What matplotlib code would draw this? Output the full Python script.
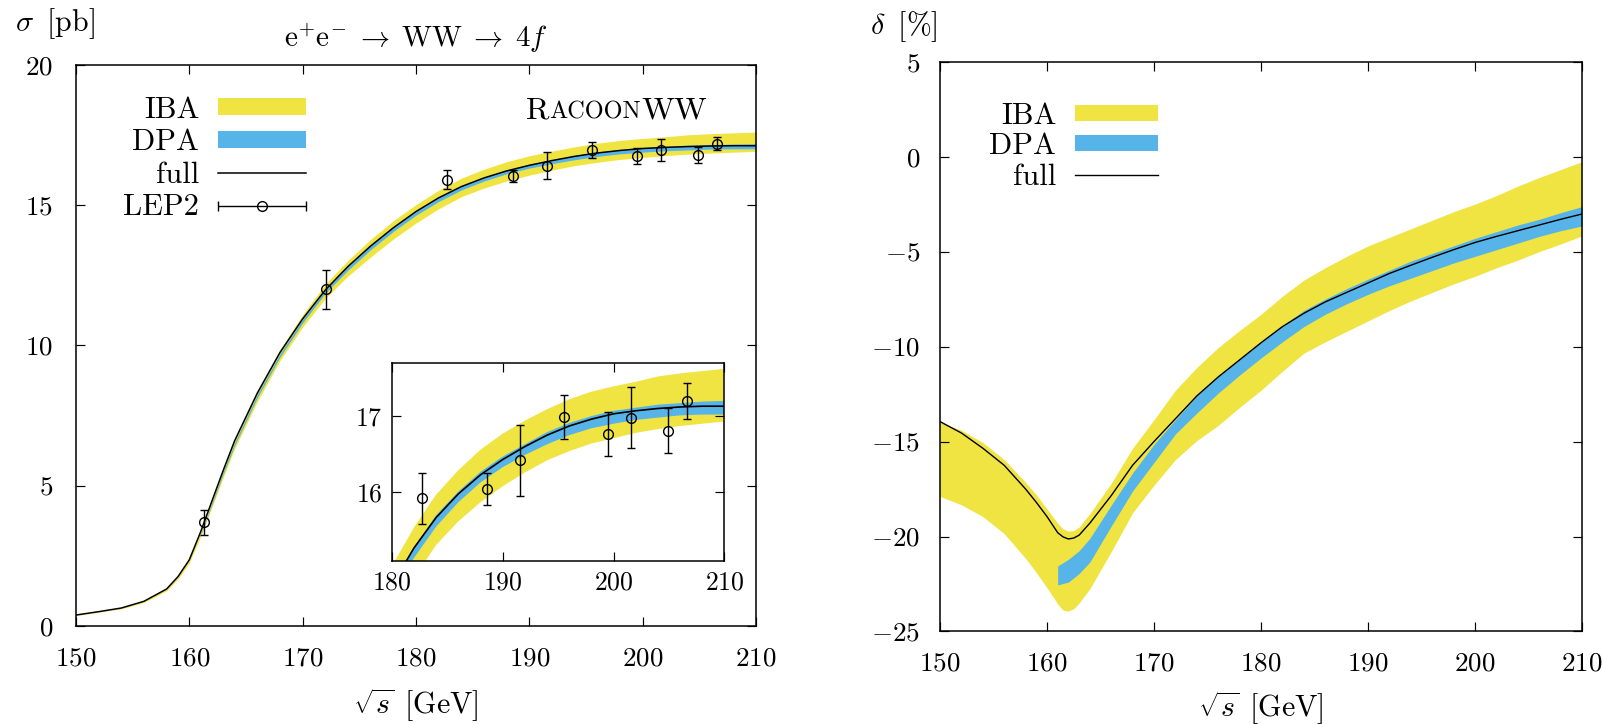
import numpy as np
import matplotlib
matplotlib.use("Agg")
import matplotlib.pyplot as plt
from matplotlib.patches import Patch
from matplotlib.lines import Line2D
from matplotlib.collections import LineCollection
from matplotlib.container import ErrorbarContainer
from matplotlib.legend_handler import HandlerErrorbar

plt.rcParams.update({
    "font.family": "serif",
    "font.serif": ["cmr10"],
    "mathtext.fontset": "cm",
    "axes.formatter.use_mathtext": True,
    "axes.unicode_minus": True,
})

YELLOW = "#F0E442"
BLUE = "#56B4E9"

# centre-of-mass energies [GeV]
energy = [150, 152, 154, 156, 158, 159, 160, 161, 162, 163, 164, 166, 168, 170,
          172, 174, 176, 178, 180, 182, 184, 186, 188, 190, 192, 194, 196, 198,
          200, 202, 204, 206, 208, 210]
energy_dpa = energy[7:]

# total cross section [pb]
sigma_full = [0.38, 0.50, 0.63, 0.87, 1.31, 1.75, 2.35, 3.35, 4.45, 5.55, 6.60,
              8.30, 9.75, 10.95, 11.98, 12.82, 13.55, 14.20, 14.78, 15.27, 15.67,
              15.98, 16.23, 16.43, 16.60, 16.75, 16.87, 16.96, 17.03, 17.07,
              17.10, 17.12, 17.13, 17.13]
sigma_iba_hi = [0.38, 0.50, 0.63, 0.87, 1.32, 1.76, 2.36, 3.37, 4.47, 5.58, 6.64,
                8.37, 9.86, 11.10, 12.19, 13.04, 13.79, 14.45, 15.03, 15.54, 15.97,
                16.29, 16.56, 16.77, 16.94, 17.09, 17.22, 17.32, 17.39, 17.45,
                17.52, 17.56, 17.59, 17.62]
sigma_iba_lo = [0.36, 0.48, 0.60, 0.83, 1.25, 1.67, 2.24, 3.19, 4.24, 5.30, 6.32,
                8.00, 9.46, 10.66, 11.68, 12.48, 13.16, 13.80, 14.37, 14.88, 15.31,
                15.62, 15.87, 16.08, 16.26, 16.42, 16.54, 16.64, 16.71, 16.78,
                16.83, 16.87, 16.90, 16.93]
sigma_dpa_hi = [3.28, 4.39, 5.50, 6.53, 8.25, 9.70, 10.93, 11.97, 12.82, 13.56,
                14.21, 14.79, 15.28, 15.70, 16.01, 16.27, 16.47, 16.63, 16.79,
                16.91, 17.00, 17.07, 17.11, 17.15, 17.17, 17.19, 17.20]
sigma_dpa_lo = [3.23, 4.32, 5.41, 6.43, 8.14, 9.59, 10.81, 11.87, 12.69, 13.42,
                14.07, 14.65, 15.14, 15.55, 15.87, 16.13, 16.33, 16.49, 16.63,
                16.75, 16.84, 16.90, 16.95, 16.98, 17.01, 17.02, 17.02]

# LEP2 measurements
lep_energy = [161.3, 172.1, 182.7, 188.6, 191.6, 195.5, 199.5, 201.6, 204.9, 206.6]
lep_sigma = [3.69, 12.00, 15.92, 16.05, 16.42, 16.99, 16.77, 16.98, 16.81, 17.20]
lep_error = [0.45, 0.70, 0.34, 0.21, 0.47, 0.29, 0.29, 0.40, 0.29, 0.24]

# relative corrections [%]
energy_delta = [150, 152, 154, 156, 158, 159, 160, 161, 161.5, 162, 162.5, 163,
                164, 166, 168, 170, 172, 174, 176, 178, 180, 182, 184, 186, 188,
                190, 192, 194, 196, 198, 200, 202, 204, 206, 208, 210]
delta_full = [-13.95, -14.55, -15.35, -16.25, -17.50, -18.20, -18.95, -19.80,
              -20.02, -20.13, -20.08, -19.93, -19.30, -17.85, -16.25, -15.00,
              -13.80, -12.60, -11.60, -10.70, -9.80, -8.95, -8.25, -7.65, -7.15,
              -6.65, -6.15, -5.72, -5.30, -4.90, -4.52, -4.20, -3.90, -3.60,
              -3.30, -3.02]
delta_iba_hi = [-14.00, -14.40, -15.05, -15.95, -17.15, -17.80, -18.55, -19.30,
                -19.60, -19.72, -19.68, -19.50, -18.80, -17.20, -15.35, -13.85,
                -12.30, -11.10, -10.05, -9.15, -8.30, -7.35, -6.50, -5.85, -5.25,
                -4.70, -4.25, -3.80, -3.35, -2.90, -2.50, -2.05, -1.55, -1.10,
                -0.68, -0.26]
delta_iba_lo = [-17.89, -18.33, -18.95, -19.85, -21.15, -21.90, -22.70, -23.55,
                -23.88, -23.93, -23.80, -23.50, -22.75, -20.80, -18.75, -17.30,
                -15.95, -14.95, -14.15, -13.20, -12.30, -11.30, -10.35, -9.75,
                -9.20, -8.65, -8.10, -7.60, -7.15, -6.70, -6.30, -5.85, -5.45,
                -5.00, -4.60, -4.17]
delta_dpa_hi = [-21.55, -21.20, -20.75, -20.10, -18.35, -16.65, -15.15, -13.85,
                -12.60, -11.55, -10.65, -9.75, -8.90, -8.10, -7.50, -6.95, -6.45,
                -5.98, -5.50, -5.10, -4.70, -4.30, -3.95, -3.60, -3.30, -2.95, -2.63]
delta_dpa_lo = [-22.55, -22.40, -21.95, -21.35, -19.45, -17.60, -16.10, -14.60,
                -13.50, -12.45, -11.50, -10.60, -9.75, -8.95, -8.30, -7.75, -7.25,
                -6.80, -6.40, -6.00, -5.60, -5.25, -4.90, -4.55, -4.20, -3.90, -3.65]

x_ticks = [150, 160, 170, 180, 190, 200, 210]
sigma_ticks = [0, 5, 10, 15, 20]
delta_ticks = [-25, -20, -15, -10, -5, 0, 5]
inset_x_ticks = [180, 190, 200, 210]
inset_y_ticks = [16, 17]

fig = plt.figure(figsize=(16.03, 7.24), dpi=100)
ax1 = fig.add_axes([0.0474, 0.1358, 0.4242, 0.7740])
ax2 = fig.add_axes([0.5864, 0.1278, 0.4005, 0.7870])
axin = fig.add_axes([0.2444, 0.2251, 0.2075, 0.2739])


def style(ax, size, xpad, ypad):
    for sp in ax.spines.values():
        sp.set_linewidth(1.1)
    ax.tick_params(direction="in", top=True, right=True, length=6.2, width=0.85,
                   labelsize=size)
    ax.tick_params(axis="x", pad=xpad)
    ax.tick_params(axis="y", pad=ypad)


def draw_sigma(ax, lw):
    ax.fill_between(energy, sigma_iba_lo, sigma_iba_hi, color=YELLOW, lw=0, zorder=1)
    ax.fill_between(energy_dpa, sigma_dpa_lo, sigma_dpa_hi, color=BLUE, lw=0, zorder=2)
    ax.plot(energy, sigma_full, color="k", lw=lw, zorder=3)
    ax.errorbar(lep_energy, lep_sigma, yerr=lep_error, fmt="o", ms=7, mfc="none",
                mec="k", mew=1.0, ecolor="k", elinewidth=1.0, capsize=3,
                capthick=1.0, zorder=4)


# ---- cross section panel ----
draw_sigma(ax1, 1.1)
ax1.set_xlim(150, 210)
ax1.set_ylim(0, 20)
ax1.set_xticks(x_ticks)
ax1.set_yticks(sigma_ticks)
style(ax1, 19.5, 15.5, 16.5)
ax1.set_title(r"$\mathrm{e}^{+}\mathrm{e}^{-}\;\rightarrow\;\mathrm{WW}\;\rightarrow\;4f$",
              fontsize=21, pad=13)
ax1.set_xlabel(r"$\sqrt{s}\;\,[\mathrm{GeV}]$", fontsize=21.5, va="top")
ax1.xaxis.set_label_coords(0.5, -0.1075)
ax1.set_ylabel(r"$\sigma\;\;[\mathrm{pb}]$", fontsize=21.5, rotation=0,
               ha="left", va="baseline")
ax1.yaxis.set_label_coords(-0.0897, 1.0612)

lep_key = ErrorbarContainer(
    (Line2D([], [], ls="none", marker="o", ms=7, mfc="none", mec="k", mew=1.0),
     (Line2D([], [], ls="none", marker="|", ms=6.5, mew=1.0, color="k"),),
     (LineCollection([], colors="k", linewidths=1.0),)),
    has_xerr=True, has_yerr=False, label="LEP2")
handles1 = [Patch(facecolor=YELLOW, edgecolor="none", label="IBA"),
            Patch(facecolor=BLUE, edgecolor="none", label="DPA"),
            Line2D([], [], color="k", lw=1.1, label="full"),
            lep_key]
ax1.legend(handles=handles1, loc="upper right", bbox_to_anchor=(0.3382, 0.945),
           frameon=False, markerfirst=False, fontsize=22, handlelength=2.876,
           handleheight=0.478, handletextpad=0.62, labelspacing=0.167,
           borderpad=0, borderaxespad=0,
           handler_map={lep_key: HandlerErrorbar(xerr_size=1.44)})

# program name in small capitals
fig.canvas.draw()
renderer = fig.canvas.get_renderer()
x_pos, y_base = 0.6618, 0.9054
for part, fs in [("R", 23), ("ACOON", 17.5), ("WW", 23)]:
    t = ax1.text(x_pos, y_base, part, transform=ax1.transAxes, fontsize=fs,
                 va="baseline", ha="left")
    bb = t.get_window_extent(renderer)
    x_pos = ax1.transAxes.inverted().transform((bb.x1, bb.y0))[0]

# ---- inset ----
draw_sigma(axin, 1.2)
axin.set_xlim(180, 210)
axin.set_ylim(15.1, 17.7)
axin.set_xticks(inset_x_ticks)
axin.set_yticks(inset_y_ticks)
style(axin, 18.5, 7, 6.5)

# ---- relative correction panel ----
ax2.fill_between(energy_delta, delta_iba_lo, delta_iba_hi, color=YELLOW, lw=0, zorder=1)
ax2.fill_between(energy_dpa, delta_dpa_lo, delta_dpa_hi, color=BLUE, lw=0, zorder=2)
ax2.plot(energy_delta, delta_full, color="k", lw=1.0, zorder=3)
ax2.set_xlim(150, 210)
ax2.set_ylim(-25, 5)
ax2.set_xticks(x_ticks)
ax2.set_yticks(delta_ticks)
style(ax2, 19.5, 14.6, 14.4)
ax2.set_xlabel(r"$\sqrt{s}\;\,[\mathrm{GeV}]$", fontsize=21.5, va="top")
ax2.xaxis.set_label_coords(0.5, -0.1015)
ax2.set_ylabel(r"$\delta\;\;[\%]$", fontsize=21.5, rotation=0,
               ha="left", va="baseline")
ax2.yaxis.set_label_coords(-0.109, 1.0486)

handles2 = [Patch(facecolor=YELLOW, edgecolor="none", label="IBA"),
            Patch(facecolor=BLUE, edgecolor="none", label="DPA"),
            Line2D([], [], color="k", lw=1.0, label="full")]
ax2.legend(handles=handles2, loc="upper right", bbox_to_anchor=(0.3391, 0.9291),
           frameon=False, markerfirst=False, fontsize=22, handlelength=2.70,
           handleheight=0.4275, handletextpad=0.62, labelspacing=0.10,
           borderpad=0, borderaxespad=0)

fig.savefig("out.png", dpi=100)
